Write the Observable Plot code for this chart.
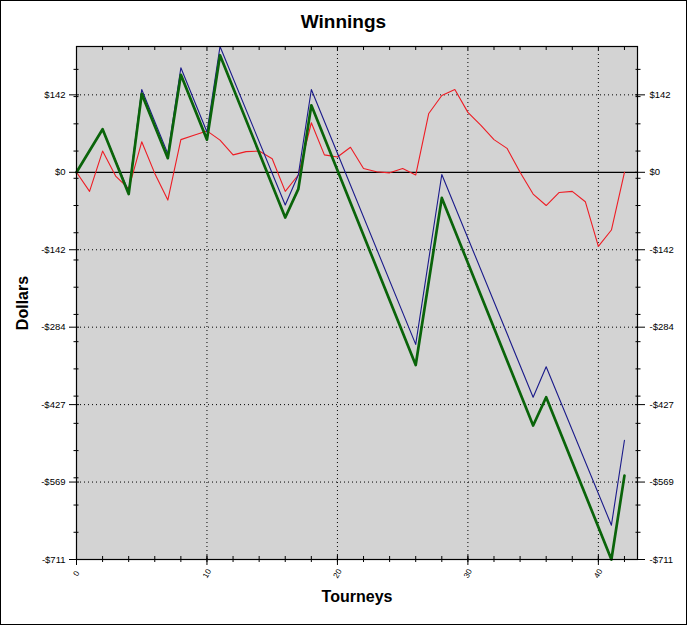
<!DOCTYPE html>
<html>
<head>
<meta charset="utf-8">
<script src="https://cdn.jsdelivr.net/npm/d3@7"></script>
<script src="https://cdn.jsdelivr.net/npm/@observablehq/plot@0.6"></script>
<style>
  html, body { margin: 0; padding: 0; background: #fff; }
  #wrap { position: relative; width: 687px; height: 625px; overflow: hidden; background: #fff; }
  #title { height: 40px; text-align: center; font: bold 19px "Liberation Sans", Arial, sans-serif; line-height: 44px; color: #000; }
  #border { position: absolute; left: 0; top: 0; width: 687px; height: 625px; box-sizing: border-box; border: 1px solid #000; pointer-events: none; }
</style>
</head>
<body>
<div id="wrap">
  <div id="title">Winnings</div>
  <div id="chart"></div>
  <div id="border"></div>
</div>
<script>
// ---- data ----
const redX = [0,1,2,3,4,5,6,7,8,9,10,11,12,13,14,15,16,17,18,19,20,21,22,23,24,25,26,27,28,29,30,31,32,33,34,35,36,37,38,39,40,41,42];
const redY = [0,-35,39,-7,-30,56,-2,-51,60,68,76,59,32,38,39,25,-35,-5,91,32,28,46,7,1,-1,7,-5,108,141,152,110,86,60,44,0,-40,-61,-37,-35,-54,-136,-106,0];

const blueX = [0,2,4,5,7,8,10,11,16,17,18,26,28,35,36,41,42];
const blueY = [0,79,-36,152,34,192,74,231,-60,-5,152,-316,-4,-413,-357,-648,-492];

const greenX = [0,2,4,5,7,8,10,11,16,17,18,26,28,35,36,41,42];
const greenY = [0,79,-40,144,26,179,60,215,-83,-31,123,-354,-47,-465,-413,-711,-557];

const yMajorTicks = [-711, -568.8, -426.6, -284.4, -142.2, 0, 142.2];
const yMinorTicks = [-661,-611,-561,-511,-461,-411,-361,-311,-261,-211,-161,-111,-61,-11,39,89,139,189];
const xMajorTicks = [0, 10, 20, 30, 40];
const xMinorTicks = [0,2,4,6,8,10,12,14,16,18,20,22,24,26,28,30,32,34,36,38,40,42];
const xTickLabels = ["0", "10", "20", "30", "40"];

const titleText = "Winnings";
const xTitle = "Tourneys";
const yTitle = "Dollars";

// ---- build ----
const red = redX.map((x, i) => ({x, y: redY[i]}));
const blue = blueX.map((x, i) => ({x, y: blueY[i]}));
const green = greenX.map((x, i) => ({x, y: greenY[i]}));
const fmt = v => v === 0 ? "$0" : (v < 0 ? "-$" : "$") + Math.round(Math.abs(v));
const yGrid = yMajorTicks.filter(v => v !== 0 && v !== -711);
const xLabelData = xMajorTicks.map((v, i) => ({x: v, t: xTickLabels[i]}));

document.getElementById("title").textContent = titleText;

const chart = Plot.plot({
  width: 687,
  height: 585,
  marginTop: 6,
  marginBottom: 66,
  marginLeft: 76,
  marginRight: 50,
  x: {domain: [0, 43]},
  y: {domain: [-711, 231]},
  style: {fontFamily: "'Liberation Sans', Arial, sans-serif", fontSize: "9.5px", color: "#000", background: "transparent"},
  marks: [
    Plot.frame({fill: "#d3d3d3", stroke: null}),
    Plot.ruleY(yGrid, {stroke: "#000", strokeDasharray: "1,3", strokeWidth: 1}),
    Plot.ruleX(xMajorTicks.filter(v => v > 0), {stroke: "#000", strokeDasharray: "1,3", strokeWidth: 1}),
    Plot.ruleY([0], {stroke: "#000", strokeWidth: 1.2}),
    Plot.line(red, {x: "x", y: "y", stroke: "#ee1c24", strokeWidth: 1.1}),
    Plot.line(blue, {x: "x", y: "y", stroke: "#1a1a8a", strokeWidth: 1.1}),
    Plot.line(green, {x: "x", y: "y", stroke: "#0a640a", strokeWidth: 2.7}),
    Plot.frame({stroke: "#000", strokeWidth: 1.2}),
    // left axis
    Plot.axisY(yMajorTicks, {anchor: "left", tickSize: 10, dx: 3, text: null, label: null}),
    Plot.axisY(yMinorTicks, {anchor: "left", tickSize: 5, dx: 2.5, text: null, label: null}),
    Plot.axisY(yMajorTicks, {anchor: "left", tickSize: 0, tickPadding: 11, tickFormat: fmt, label: null}),
    // right axis
    Plot.axisY(yMajorTicks, {anchor: "right", tickSize: 10, dx: -3, text: null, label: null}),
    Plot.axisY(yMinorTicks, {anchor: "right", tickSize: 5, dx: -2.5, text: null, label: null}),
    Plot.axisY(yMajorTicks, {anchor: "right", tickSize: 0, tickPadding: 12, tickFormat: fmt, label: null}),
    // bottom axis
    Plot.axisX(xMajorTicks, {anchor: "bottom", tickSize: 10, dy: -4, text: null, label: null}),
    Plot.axisX(xMinorTicks, {anchor: "bottom", tickSize: 6, dy: -3, text: null, label: null}),
    Plot.text(xLabelData, {x: "x", y: () => -711, text: "t", dy: 14, rotate: -60, textAnchor: "middle", fontSize: 8}),
    // top axis
    Plot.axisX(xMinorTicks, {anchor: "top", tickSize: 3, dy: 3, text: null, label: null}),
    // axis titles
    Plot.text([xTitle], {frameAnchor: "bottom", text: d => d, dy: 42, fontSize: 16, fontWeight: "bold", textAnchor: "middle"}),
    Plot.text([yTitle], {frameAnchor: "left", text: d => d, dx: -54, rotate: -90, fontSize: 16, fontWeight: "bold", textAnchor: "middle"})
  ]
});
document.getElementById("chart").appendChild(chart);
</script>
</body>
</html>
